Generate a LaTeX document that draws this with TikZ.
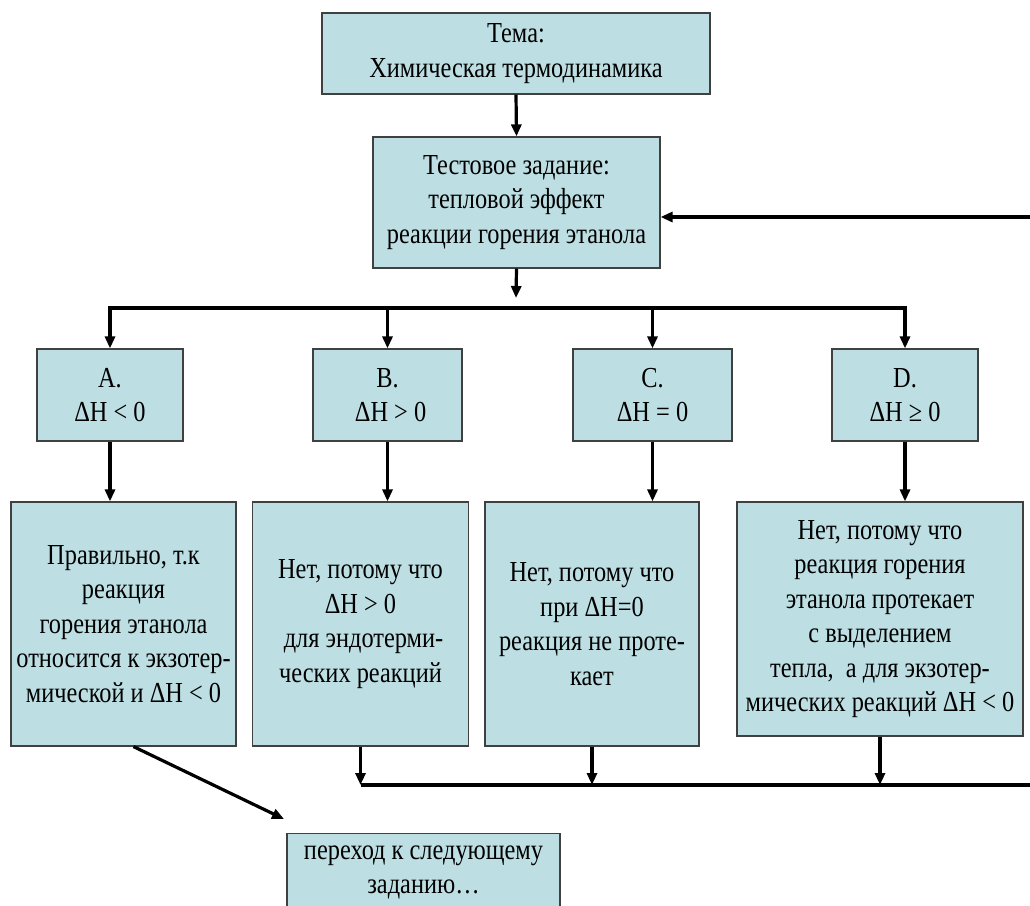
\documentclass[tikz,border=0pt]{standalone}
\usepackage{fontspec}
\setmainfont{Liberation Serif}[FakeStretch=0.84]
\usetikzlibrary{arrows.meta}
\definecolor{boxfill}{RGB}{189,223,227}

\begin{document}
\begin{tikzpicture}[
    x=1pt, y=-1pt, % pixel-like units, y grows downwards
    >={Triangle[length=12pt,width=10pt]}, % Default arrow tip
    box/.style={draw=black!75, line width=1.2pt, fill=boxfill, align=center,
        inner sep=0pt, font=\fontsize{29}{34.5}\selectfont}, % Style for boxes
    conn/.style={->, line width=3.2pt}, % Style for arrows
    wire/.style={line width=3.2pt} % Style for plain lines
]

    % Canvas
    \useasboundingbox (0,0) rectangle (1030,905);
    \clip (0,0) rectangle (1030,905);

    % Topic and task
    \node[box, minimum width=388pt, minimum height=81pt] (tema) at (516,53.5)
        {Тема:\\Химическая термодинамика};
    \node[box, minimum width=287pt, minimum height=131pt] (test) at (516.5,202.5)
        {Тестовое задание:\\тепловой эффект\\реакции горения этанола};

    % Answer options
    \node[box, minimum width=146pt, minimum height=92pt] (optA) at (110,395) {A.\\ΔH < 0};
    \node[box, minimum width=149pt, minimum height=92pt] (optB) at (387.5,395) {B.\\\ ΔH > 0};
    \node[box, minimum width=159pt, minimum height=92pt] (optC) at (652.5,395) {C.\\ΔH = 0};
    \node[box, minimum width=146pt, minimum height=92pt] (optD) at (905,395) {D.\\ΔH ≥ 0};

    % Comments on the options
    \node[box, minimum width=225pt, minimum height=244pt] (ansA) at (123.5,624)
        {Правильно, т.к\\реакция\\горения этанола\\относится к экзотер-\\мической и ΔH < 0};
    \node[box, minimum width=216pt, minimum height=244pt] (ansB) at (360.5,624)
        {Нет, потому что\\ΔH > 0\\\ для эндотерми-\\ческих реакций};
    \node[box, minimum width=214pt, minimum height=244pt] (ansC) at (592,624)
        {Нет, потому что\\при ΔH=0\\реакция не проте-\\кает};
    \node[box, minimum width=286pt, minimum height=234pt] (ansD) at (880,619)
        {Нет, потому что\\реакция горения\\этанола протекает\\с выделением\\тепла,\ \ а для экзотер-\\мических реакций ΔH < 0};

    % Next task
    \node[box, anchor=north, minimum width=273pt, inner ysep=12pt] (next) at (423.5,833)
        {переход к следующему\\заданию…\\\strut};

    % Key points
    \coordinate (fork) at (516,298); % end of arrow from the task
    \coordinate (hub) at (516,308);  % split line
    \coordinate (ret) at (1030,785); % return line, right edge
    \coordinate (back) at (1030,217); % return arrow, right edge
    \coordinate (nextIn) at (284,819);

    % Flow down
    \draw[conn] (tema.south) -- (test.north);
    \draw[conn] (test.south) -- (fork);
    \draw[conn] (hub) -| (optA.north);
    \draw[conn] (hub) -| (optD.north);
    \foreach \k in {B,C}
        \draw[conn] (opt\k.north |- hub) -- (opt\k.north);
    \foreach \k in {A,B,C,D}
        \draw[conn] (opt\k.south) -- (opt\k.south |- ans\k.north);

    % Wrong answers go back to the task
    \draw[wire] (ansB.south |- ret) -- (ret);
    \foreach \k in {B,C,D}
        \draw[conn] (ans\k.south) -- (ans\k.south |- ret);
    \draw[conn] (back) -- (back -| test.east);

    % Right answer goes on
    \draw[conn] ([xshift=10pt]ansA.south) -- (nextIn);

\end{tikzpicture}
\end{document}
